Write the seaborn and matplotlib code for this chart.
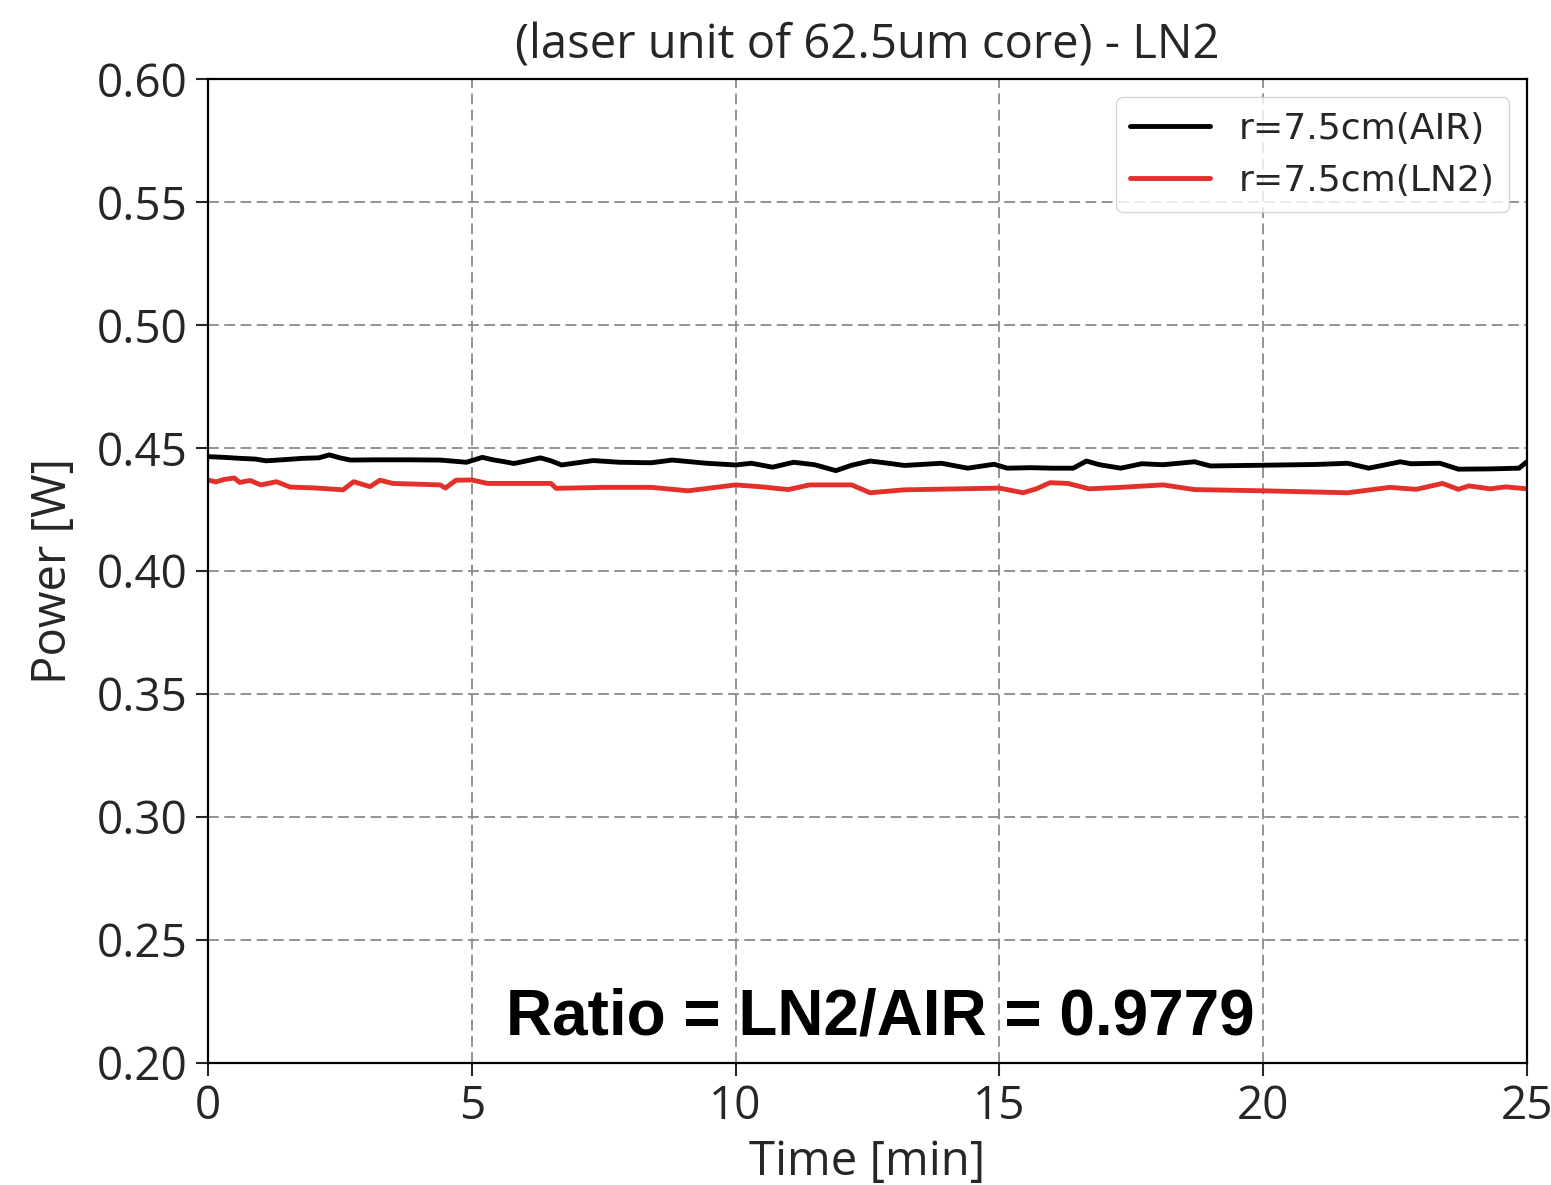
import numpy as np
import pandas as pd
import matplotlib
matplotlib.use("Agg")
import matplotlib.pyplot as plt
import seaborn as sns

# datos
t_air = [0, 0.3, 0.6, 0.9, 1.1, 1.4, 1.8, 2.1, 2.3, 2.5, 2.7, 3.2, 3.8, 4.4, 4.9,
         5.2, 5.4, 5.6, 5.8, 6.0, 6.3, 6.5, 6.7, 7.0, 7.3, 7.8, 8.4, 8.8, 9.45,
         10.0, 10.3, 10.7, 11.1, 11.5, 11.9, 12.2, 12.55, 12.9, 13.2, 13.9, 14.4,
         14.9, 15.15, 15.6, 16.0, 16.4, 16.65, 16.9, 17.3, 17.7, 18.1, 18.7, 19.0,
         20.0, 21.0, 21.6, 22.0, 22.6, 22.8, 23.35, 23.7, 24.3, 24.85, 25.0]
p_air = [0.4465, 0.4462, 0.4458, 0.4455, 0.4448, 0.4452, 0.4458, 0.4460, 0.4472,
         0.4460, 0.4451, 0.4452, 0.4452, 0.4451, 0.4442, 0.4462, 0.4452, 0.4445,
         0.4437, 0.4446, 0.4460, 0.4448, 0.4431, 0.4440, 0.4449, 0.4442, 0.4440,
         0.4451, 0.4438, 0.4431, 0.4438, 0.4422, 0.4442, 0.4432, 0.4408, 0.4430,
         0.4447, 0.4438, 0.4429, 0.4438, 0.4418, 0.4434, 0.4418, 0.4420, 0.4418,
         0.4418, 0.4447, 0.4432, 0.4418, 0.4436, 0.4432, 0.4444, 0.4427, 0.4430,
         0.4433, 0.4438, 0.4418, 0.4444, 0.4436, 0.4438, 0.4414, 0.4415, 0.4418,
         0.4444]

t_ln2 = [0, 0.15, 0.3, 0.5, 0.6, 0.8, 1.0, 1.3, 1.56, 2.0, 2.56, 2.76, 3.07, 3.26,
         3.5, 4.4, 4.5, 4.7, 5.0, 5.3, 6.5, 6.6, 7.5, 8.4, 9.1, 10.0, 10.5, 11.0,
         11.4, 12.2, 12.55, 13.2, 14.0, 15.0, 15.45, 15.7, 15.96, 16.3, 16.7, 17.3,
         18.1, 18.7, 20.0, 21.6, 22.4, 22.9, 23.4, 23.7, 23.9, 24.3, 24.6, 25.0]
p_ln2 = [0.4370, 0.4362, 0.4372, 0.4378, 0.4360, 0.4368, 0.4350, 0.4363, 0.4341,
         0.4338, 0.4330, 0.4363, 0.4343, 0.4369, 0.4356, 0.4350, 0.4337, 0.4369,
         0.4370, 0.4356, 0.4356, 0.4336, 0.4340, 0.4340, 0.4326, 0.4350, 0.4342,
         0.4331, 0.4350, 0.4350, 0.4318, 0.4330, 0.4333, 0.4337, 0.4318, 0.4334,
         0.4359, 0.4356, 0.4334, 0.4340, 0.4350, 0.4331, 0.4326, 0.4318, 0.4340,
         0.4332, 0.4356, 0.4332, 0.4346, 0.4334, 0.4342, 0.4334]

labels = ["r=7.5cm(AIR)", "r=7.5cm(LN2)"]
colors = ["black", "#e3302a"]

df = pd.concat([
    pd.DataFrame({"Time": t_air, "Power": p_air, "serie": labels[0]}),
    pd.DataFrame({"Time": t_ln2, "Power": p_ln2, "serie": labels[1]}),
])

sns.set_style("ticks")
plt.rcParams["font.family"] = ["Open Sans", "DejaVu Sans"]

fig = plt.figure(figsize=(15.51, 11.85), dpi=100)
ax = fig.add_axes([0.1341, 0.1030, 0.8504, 0.8303])

sns.lineplot(data=df, x="Time", y="Power", hue="serie", palette=colors,
             linewidth=3.5, ax=ax, estimator=None, sort=False)

ax.set_xlim(0, 25)
ax.set_ylim(0.20, 0.60)
ax.set_xticks([0, 5, 10, 15, 20, 25])
ax.set_yticks(np.arange(0.20, 0.601, 0.05))
ax.set_yticklabels([f"{v:.2f}" for v in np.arange(0.20, 0.601, 0.05)])
ax.tick_params(labelsize=33, length=9, width=1.5, pad=6)
ax.grid(True, linestyle=(0, (6, 3)), color="#8a8a8a", linewidth=1.3)
for s in ax.spines.values():
    s.set_linewidth(1.6)
    s.set_color("black")

ax.set_xlabel("Time [min]", fontsize=34, labelpad=6)
ax.set_ylabel("Power [W]", fontsize=34, labelpad=14)
ax.set_title("(laser unit of 62.5um core) - LN2", fontsize=34, pad=15)

leg = ax.legend(loc="upper right", prop={"family": "DejaVu Sans", "size": 26},
                handlelength=2.2, borderaxespad=0.5, framealpha=0.8)
leg.get_frame().set_edgecolor("#cccccc")
for h in leg.get_lines():
    h.set_linewidth(3.5)

ax.text(0.51, 0.046, "Ratio = LN2/AIR = 0.9779", transform=ax.transAxes,
        ha="center", va="center", fontsize=46, fontweight="bold",
        family="Liberation Sans", color="black")

plt.savefig("out.png", dpi=100)
